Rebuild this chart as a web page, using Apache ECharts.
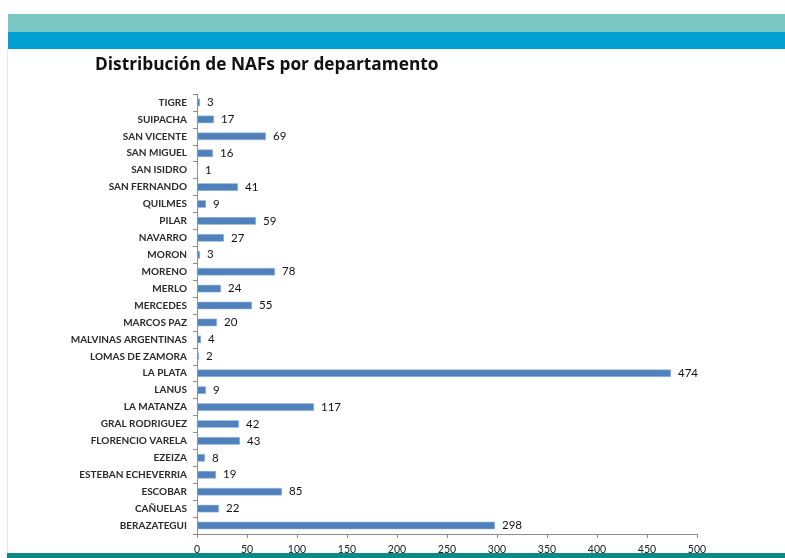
<!DOCTYPE html>
<html>
<head>
<meta charset="utf-8">
<script src="https://cdn.jsdelivr.net/npm/echarts@6/dist/echarts.min.js"></script>
<style>
html,body{margin:0;padding:0;background:#fff;}
#chart{width:785px;height:558px;}
</style>
</head>
<body>
<div id="chart"></div>
<script>
const categories = ["BERAZATEGUI","CAÑUELAS","ESCOBAR","ESTEBAN ECHEVERRIA","EZEIZA","FLORENCIO VARELA","GRAL RODRIGUEZ","LA MATANZA","LANUS","LA PLATA","LOMAS DE ZAMORA","MALVINAS ARGENTINAS","MARCOS PAZ","MERCEDES","MERLO","MORENO","MORON","NAVARRO","PILAR","QUILMES","SAN FERNANDO","SAN ISIDRO","SAN MIGUEL","SAN VICENTE","SUIPACHA","TIGRE"];
const values = [298,22,85,19,8,43,42,117,9,474,2,4,20,55,24,78,3,27,59,9,41,1,16,69,17,3];
const xTicks = [0,50,100,150,200,250,300,350,400,450,500];
const titleText = "Distribución de NAFs por departamento";

const chart = echarts.init(document.getElementById('chart'), null, {renderer:'canvas'});
const font = "Lato,'Liberation Sans',sans-serif";
chart.setOption({
  animation:false,
  backgroundColor:'#ffffff',
  title:{text:titleText,left:90,top:52,textStyle:{fontFamily:"'Open Sans','Liberation Sans',sans-serif",fontWeight:'bold',fontSize:17.3,color:'#111'}},
  graphic:[
    {type:'rect',shape:{x:8,y:14,width:777,height:18},style:{fill:'#79C6C2'},silent:true},
    {type:'rect',shape:{x:8,y:32,width:777,height:17},style:{fill:'#00A0D3'},silent:true},
    {type:'rect',shape:{x:7,y:49,width:1,height:504},style:{fill:'#e6e6e6'},silent:true},
    {type:'rect',shape:{x:7,y:553,width:778,height:5},style:{fill:'#0E8985'},silent:true}
  ],
  grid:{left:197,right:88,top:94,bottom:24,containLabel:false},
  xAxis:{type:'value',min:xTicks[0],max:xTicks[xTicks.length-1],interval:50,
    axisLine:{show:true,lineStyle:{color:'#8c8c8c'}},
    axisTick:{show:true,length:4,lineStyle:{color:'#8c8c8c'}},
    splitLine:{show:false},
    axisLabel:{fontFamily:font,fontSize:10.5,color:'#222',margin:10}},
  yAxis:{type:'category',data:categories,
    axisLine:{show:true,lineStyle:{color:'#8c8c8c'}},
    axisTick:{show:true,length:4,lineStyle:{color:'#8c8c8c'}},
    axisLabel:{fontFamily:font,fontSize:10,fontWeight:'bold',color:'#2a2a2a',margin:10}},
  series:[{type:'bar',data:values,barWidth:'45%',
    itemStyle:{color:'#4F81BD',borderColor:'#A9C0DE',borderWidth:0.5},
    label:{show:true,position:'right',distance:7,fontFamily:font,fontSize:11.5,color:'#111'}}]
});
</script>
</body>
</html>
